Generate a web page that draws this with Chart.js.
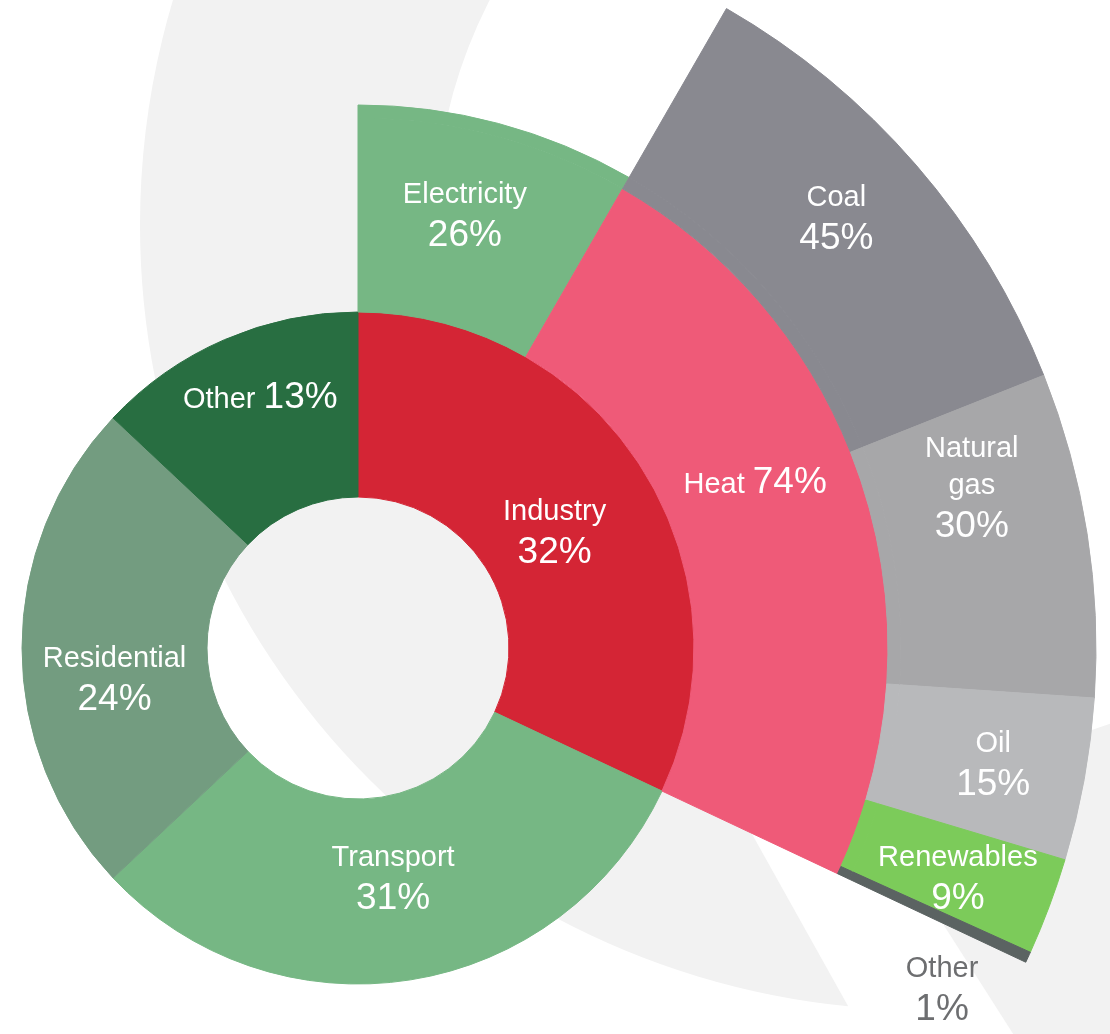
<!DOCTYPE html>
<html>
<head>
<meta charset="utf-8">
<title>Final energy use - sunburst</title>
<script src="https://cdn.jsdelivr.net/npm/chart.js@4.4.1/dist/chart.umd.min.js"></script>
<style>
  html, body { margin: 0; padding: 0; background: #ffffff; overflow: hidden; }
  #wrap { position: relative; width: 1110px; height: 1034px; }
  canvas { display: block; }
</style>
</head>
<body>
<div id="wrap"><canvas id="sunburst" width="1110" height="1034"></canvas></div>
<script>
// shares in percent
const sectorNames = ["Industry", "Transport", "Residential", "Other"];
const sectorShares = [32, 31, 24, 13];

// how the industry share splits
const industryUseNames = ["Electricity", "Heat"];
const industryUseShares = [26, 74];

// how the heat share splits by fuel
const heatFuelNames = ["Coal", "Natural gas", "Oil", "Renewables", "Other"];
const heatFuelShares = [45, 30, 15, 9, 1];

const sectorColors = ["#d42535", "#76b784", "#739c80", "#286e41"];
const industryUseColors = ["#76b784", "#ef5a78"];
const heatFuelColors = ["#898990", "#a7a7a9", "#b8b9bb", "#7ccb5a", "#5b6362"];
const NONE = "rgba(0,0,0,0)";

// ring edges in px, outside -> in (fuel ring, electricity lip, industry use ring, sectors, hole)
const ringEdges = [738, 543, 530, 336, 151];
const ringWeights = ringEdges.slice(1).map((r, i) => ringEdges[i] - r);

const industryShare = sectorShares[0];
const restShare = sectorShares.slice(1).reduce((a, b) => a + b, 0);
const useParts = industryUseShares.map(v => industryShare * v / 100);
const fuelParts = heatFuelShares.map(v => useParts[1] * v / 100);

const NAME_FONT = '29px "Liberation Sans", Arial, sans-serif';
const PCT_FONT = '37px "Liberation Sans", Arial, sans-serif';

// label nudges relative to the arc centre
const labelLayout = {
  "sector:Industry": { dx: -9, dy: 12 },
  "sector:Transport": { dx: -3, dy: -13 },
  "sector:Residential": { dx: 0, dy: 29 },
  "sector:Other": { dx: -1, dy: -30, inline: true },
  "use:Electricity": { dx: -5, dy: -17 },
  "use:Heat": { dx: -16, dy: -38, inline: true },
  "fuel:Coal": { dx: -6, dy: -13 },
  "fuel:Natural gas": { dx: -19, dy: -63, wrap: true },
  "fuel:Oil": { dx: 5, dy: 0 },
  "fuel:Renewables": { dx: 0, dy: 4 },
  "fuel:Other": { dx: -86, dy: 30, outside: true, color: "#6d6e70" }
};

const labelItems = [];
sectorNames.forEach((n, i) => labelItems.push({ ring: 3, arc: i, key: "sector:" + n, name: n, pct: sectorShares[i] }));
industryUseNames.forEach((n, i) => labelItems.push({ ring: 2, arc: i, key: "use:" + n, name: n, pct: industryUseShares[i] }));
heatFuelNames.forEach((n, i) => labelItems.push({ ring: 0, arc: i + 1, key: "fuel:" + n, name: n, pct: heatFuelShares[i] }));

// big pale ring behind the chart
const backdrop = {
  color: "#f2f2f2",
  cx: 925, cy: 225,
  bands: [
    { inner: 490, outer: 785, from: 90, to: 235 },
    { inner: 532, outer: 1000, from: -20, to: 92 }
  ],
  gap: [[733, 800], [864, 800], [1017, 1040], [867, 1040]]
};

const backdropPlugin = {
  id: "backdrop",
  beforeDatasetsDraw(chart) {
    const ctx = chart.ctx;
    ctx.save();
    ctx.fillStyle = backdrop.color;
    backdrop.bands.forEach(b => {
      const a0 = b.from * Math.PI / 180;
      const a1 = b.to * Math.PI / 180;
      ctx.beginPath();
      ctx.arc(backdrop.cx, backdrop.cy, b.outer, a0, a1);
      ctx.arc(backdrop.cx, backdrop.cy, b.inner, a1, a0, true);
      ctx.closePath();
      ctx.fill();
    });
    ctx.fillStyle = "#ffffff";
    ctx.beginPath();
    backdrop.gap.forEach((p, i) => i ? ctx.lineTo(p[0], p[1]) : ctx.moveTo(p[0], p[1]));
    ctx.closePath();
    ctx.fill();
    ctx.restore();
  }
};

function drawLabel(ctx, x, y, item, lay) {
  const pct = item.pct + "%";
  ctx.fillStyle = lay.color || "#ffffff";
  ctx.textBaseline = "alphabetic";
  if (lay.inline) {
    ctx.font = NAME_FONT;
    const nameW = ctx.measureText(item.name + " ").width;
    ctx.font = PCT_FONT;
    const pctW = ctx.measureText(pct).width;
    const left = x - (nameW + pctW) / 2;
    ctx.textAlign = "left";
    ctx.font = NAME_FONT;
    ctx.fillText(item.name + " ", left, y + 13);
    ctx.font = PCT_FONT;
    ctx.fillText(pct, left + nameW, y + 13);
    return;
  }
  const lines = lay.wrap ? item.name.split(" ") : [item.name];
  const base = y - 10 - (lines.length - 1) * 37 / 2;
  ctx.textAlign = "center";
  ctx.font = NAME_FONT;
  lines.forEach((t, k) => ctx.fillText(t, x, base + k * 37));
  ctx.font = PCT_FONT;
  ctx.fillText(pct, x, base + (lines.length - 1) * 37 + 43);
}

const labelPlugin = {
  id: "arcLabels",
  afterDatasetsDraw(chart) {
    const ctx = chart.ctx;
    ctx.save();
    labelItems.forEach(item => {
      const el = chart.getDatasetMeta(item.ring).data[item.arc];
      if (!el) return;
      const lay = labelLayout[item.key] || { dx: 0, dy: 0 };
      let px, py;
      if (lay.outside) {
        const p = el.getProps(["x", "y", "startAngle", "endAngle", "outerRadius"], true);
        const mid = (p.startAngle + p.endAngle) / 2;
        px = p.x + Math.cos(mid) * p.outerRadius;
        py = p.y + Math.sin(mid) * p.outerRadius;
      } else {
        const c = el.tooltipPosition(true);
        px = c.x;
        py = c.y;
      }
      drawLabel(ctx, px + lay.dx, py + lay.dy, item, lay);
    });
    ctx.restore();
  }
};

const fuelRingColors = [NONE, ...heatFuelColors, NONE];
const lipColors = [industryUseColors[0], ...heatFuelColors, NONE];
const useRingColors = [...industryUseColors, NONE];

new Chart(document.getElementById("sunburst"), {
  type: "doughnut",
  data: {
    datasets: [
      {
        label: "Heat by fuel",
        data: [useParts[0], ...fuelParts, restShare],
        backgroundColor: fuelRingColors,
        borderColor: fuelRingColors,
        borderWidth: 1,
        weight: ringWeights[0],
        clip: false
      },
      {
        // thin band where electricity reaches out further than heat
        label: "Lip",
        data: [useParts[0], ...fuelParts, restShare],
        backgroundColor: lipColors,
        borderColor: lipColors,
        borderWidth: 1,
        weight: ringWeights[1],
        clip: false
      },
      {
        label: "Industry use",
        data: [...useParts, restShare],
        backgroundColor: useRingColors,
        borderColor: useRingColors,
        borderWidth: 1,
        weight: ringWeights[2],
        clip: false
      },
      {
        label: "Sectors",
        data: sectorShares,
        backgroundColor: sectorColors,
        borderColor: sectorColors,
        borderWidth: 1,
        weight: ringWeights[3],
        clip: false
      }
    ]
  },
  options: {
    responsive: false,
    animation: false,
    events: [],
    radius: ringEdges[0],
    cutout: (ringEdges[4] / ringEdges[0] * 100) + "%",
    layout: { padding: { left: 0, right: 394, top: 262, bottom: 0 } },
    plugins: {
      legend: { display: false },
      tooltip: { enabled: false }
    }
  },
  plugins: [backdropPlugin, labelPlugin]
});
</script>
</body>
</html>
